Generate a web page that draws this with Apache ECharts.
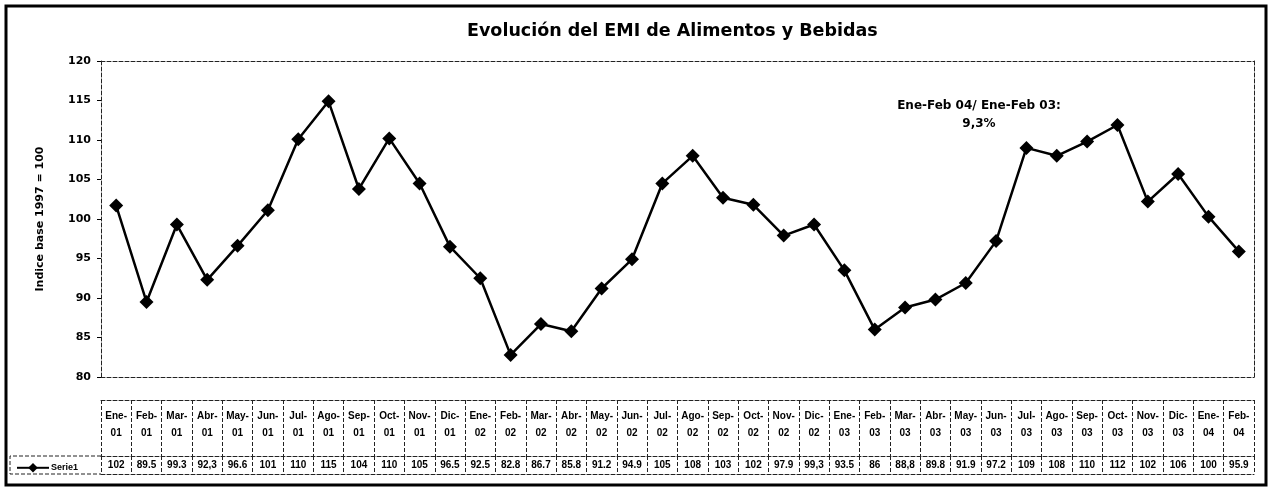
<!DOCTYPE html>
<html>
<head>
<meta charset="utf-8">
<script src="https://cdn.jsdelivr.net/npm/echarts@6/dist/echarts.min.js"></script>
<style>
  html, body { margin: 0; padding: 0; background: #fff; }
  #chart { width: 1272px; height: 489px; }
</style>
</head>
<body>
<div id="chart"></div>
<script>
// categorias (mes-año)
const categories = [
  'Ene-01', 'Feb-01', 'Mar-01', 'Abr-01', 'May-01', 'Jun-01', 'Jul-01', 'Ago-01', 'Sep-01', 'Oct-01', 'Nov-01', 'Dic-01',
  'Ene-02', 'Feb-02', 'Mar-02', 'Abr-02', 'May-02', 'Jun-02', 'Jul-02', 'Ago-02', 'Sep-02', 'Oct-02', 'Nov-02', 'Dic-02',
  'Ene-03', 'Feb-03', 'Mar-03', 'Abr-03', 'May-03', 'Jun-03', 'Jul-03', 'Ago-03', 'Sep-03', 'Oct-03', 'Nov-03', 'Dic-03',
  'Ene-04', 'Feb-04'
];

// EMI alimentos y bebidas, indice base 1997 = 100
const serie1 = [
  101.7, 89.5, 99.3, 92.3, 96.6, 101.1, 110.1, 114.9, 103.8, 110.2, 104.5, 96.5,
  92.5, 82.8, 86.7, 85.8, 91.2, 94.9, 104.5, 108.0, 102.7, 101.8, 97.9, 99.3,
  93.5, 86.0, 88.8, 89.8, 91.9, 97.2, 109.0, 108.0, 109.8, 111.9, 102.2, 105.7,
  100.3, 95.9
];

// valores tal como aparecen en la tabla de datos
const tableLabels = [
  '102', '89.5', '99.3', '92,3', '96.6', '101', '110', '115', '104', '110', '105', '96.5',
  '92.5', '82.8', '86.7', '85.8', '91.2', '94.9', '105', '108', '103', '102', '97.9', '99,3',
  '93.5', '86', '88,8', '89.8', '91.9', '97.2', '109', '108', '110', '112', '102', '106',
  '100', '95.9'
];

const yTicks = { min: 80, max: 120, interval: 5 };

const font = "'Liberation Sans', Arial, sans-serif";
const wide = "'DejaVu Sans', sans-serif";
const dashed = { color: '#222', width: 1, type: [4, 2] };

const chart = echarts.init(document.getElementById('chart'));

const L = 101, R = 18;

const option = {
  animation: false,
  backgroundColor: '#fff',
  textStyle: { fontFamily: font },
  title: [
    {
      text: 'Evolución del EMI de Alimentos y Bebidas',
      left: 462, top: 17,
      textStyle: { fontSize: 17.5, fontWeight: 'bold', color: '#000', fontFamily: wide }
    },
    {
      text: 'Ene-Feb 04/ Ene-Feb 03:\n9,3%',
      left: 974, top: 92, textAlign: 'center',
      textStyle: { fontSize: 12, fontWeight: 'bold', color: '#000', lineHeight: 18, fontFamily: wide }
    }
  ],
  legend: {
    data: ['Serie1'],
    left: 11, top: 458,
    itemWidth: 32, itemHeight: 12, itemGap: 4,
    textStyle: { fontSize: 9, fontWeight: 'bold', color: '#000', padding: [0, 0, 0, -3] }
  },
  grid: [
    { left: L, right: R, top: 61, height: 316 },
    { left: L, right: R, top: 400, height: 56 },
    { left: L, right: R, top: 456, height: 18 }
  ],
  xAxis: [
    {
      gridIndex: 0, type: 'category', data: categories, boundaryGap: true,
      axisLine: { lineStyle: dashed }, axisTick: { show: false }, axisLabel: { show: false }
    },
    {
      gridIndex: 0, type: 'category', data: categories, position: 'top',
      axisLine: { lineStyle: dashed }, axisTick: { show: false }, axisLabel: { show: false }
    },
    {
      gridIndex: 1, type: 'category', data: categories, boundaryGap: true, position: 'bottom',
      axisLine: { lineStyle: dashed }, axisTick: { show: false },
      splitLine: { show: true, lineStyle: dashed },
      axisLabel: {
        inside: true, margin: 14, interval: 0,
        fontSize: 10, fontWeight: 'bold', color: '#000', lineHeight: 17,
        formatter: (v) => v.replace('-', '-\n')
      }
    },
    {
      gridIndex: 1, type: 'category', data: categories, position: 'top',
      axisLine: { lineStyle: dashed }, axisTick: { show: false }, axisLabel: { show: false }
    },
    {
      gridIndex: 2, type: 'category', data: tableLabels, boundaryGap: true, position: 'bottom',
      axisLine: { lineStyle: dashed }, axisTick: { show: false },
      splitLine: { show: true, lineStyle: dashed },
      axisLabel: { inside: true, margin: 3, interval: 0, fontSize: 10, fontWeight: 'bold', color: '#000', lineHeight: 12 }
    }
  ],
  yAxis: [
    {
      gridIndex: 0, type: 'value', min: yTicks.min, max: yTicks.max, interval: yTicks.interval,
      name: 'Indice base 1997 = 100', nameLocation: 'middle', nameGap: 55, nameRotate: 90,
      nameTextStyle: { fontSize: 11, fontWeight: 'bold', color: '#000', fontFamily: wide },
      axisLine: { show: true, lineStyle: dashed },
      axisTick: { show: true, length: 4, lineStyle: { color: '#000' } },
      axisLabel: { fontSize: 11, fontWeight: 'bold', color: '#000', margin: 10, fontFamily: wide },
      splitLine: { show: false }
    },
    {
      gridIndex: 0, type: 'value', min: yTicks.min, max: yTicks.max, position: 'right',
      axisLine: { show: true, lineStyle: dashed }, axisTick: { show: false },
      axisLabel: { show: false }, splitLine: { show: false }
    },
    { gridIndex: 1, type: 'value', show: false },
    { gridIndex: 2, type: 'value', show: false }
  ],
  series: [
    {
      name: 'Serie1', type: 'line', xAxisIndex: 0, yAxisIndex: 0,
      data: serie1,
      symbol: 'diamond', symbolSize: 14,
      itemStyle: { color: '#000' },
      lineStyle: { color: '#000', width: 2.5 }
    }
  ],
  graphic: [
    // marco exterior
    { type: 'rect', shape: { x: 6, y: 6, width: 1260, height: 479 },
      style: { fill: null, stroke: '#000', lineWidth: 3 } },
    // celda de la leyenda en la tabla
    { type: 'polyline', shape: { points: [[L, 456], [10, 456], [10, 474], [L, 474]] },
      style: { fill: null, stroke: '#222', lineWidth: 1, lineDash: [4, 2] } }
  ]
};

chart.setOption(option);
</script>
</body>
</html>
